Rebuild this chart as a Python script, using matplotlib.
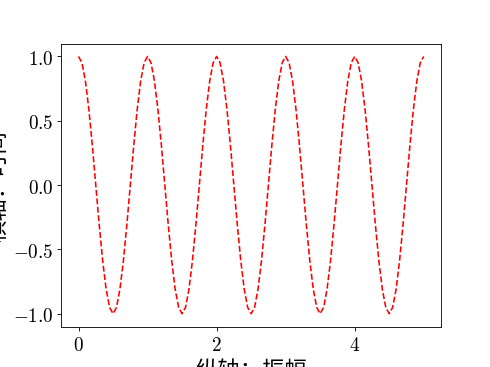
import numpy as np
import matplotlib
matplotlib.use("Agg")
import matplotlib.pyplot as plt
from matplotlib.ticker import FuncFormatter

amplitude = [
    1.0, 0.951, 0.809, 0.588, 0.309, 0.0, -0.309, -0.588, -0.809, -0.951,
    -1.0, -0.951, -0.809, -0.588, -0.309, 0.0, 0.309, 0.588, 0.809, 0.951,
    1.0, 0.951, 0.809, 0.588, 0.309, 0.0, -0.309, -0.588, -0.809, -0.951,
    -1.0, -0.951, -0.809, -0.588, -0.309, 0.0, 0.309, 0.588, 0.809, 0.951,
    1.0, 0.951, 0.809, 0.588, 0.309, 0.0, -0.309, -0.588, -0.809, -0.951,
    -1.0, -0.951, -0.809, -0.588, -0.309, 0.0, 0.309, 0.588, 0.809, 0.951,
    1.0, 0.951, 0.809, 0.588, 0.309, 0.0, -0.309, -0.588, -0.809, -0.951,
    -1.0, -0.951, -0.809, -0.588, -0.309, 0.0, 0.309, 0.588, 0.809, 0.951,
    1.0, 0.951, 0.809, 0.588, 0.309, 0.0, -0.309, -0.588, -0.809, -0.951,
    -1.0, -0.951, -0.809, -0.588, -0.309, 0.0, 0.309, 0.588, 0.809, 0.951,
    1.0,
]
time = np.linspace(0, 5, len(amplitude))

x_ticks = [0, 2, 4]
y_ticks = [-1.0, -0.5, 0.0, 0.5, 1.0]
x_label = "纵轴：振幅"
y_label = "横轴：时间"

plt.rcParams['font.family'] = ['Noto Sans CJK SC', 'DejaVu Sans']
plt.rcParams['mathtext.fontset'] = 'cm'

dpi = 490 / 6.4
fig = plt.figure(figsize=(6.4, 4.8), dpi=dpi)
ax = fig.add_subplot(111)
ax.plot(time, amplitude, 'r--', linewidth=1.5)

ax.set_xticks(x_ticks)
ax.set_yticks(y_ticks)
ax.xaxis.set_major_formatter(FuncFormatter(lambda v, p: r"$%d$" % v))
ax.yaxis.set_major_formatter(FuncFormatter(lambda v, p: r"$%.1f$" % v))
ax.tick_params(labelsize=18)

ax.set_xlabel(x_label, fontsize=21)
ax.set_ylabel(y_label, fontsize=21)

fig.savefig("out.png", dpi=dpi)
